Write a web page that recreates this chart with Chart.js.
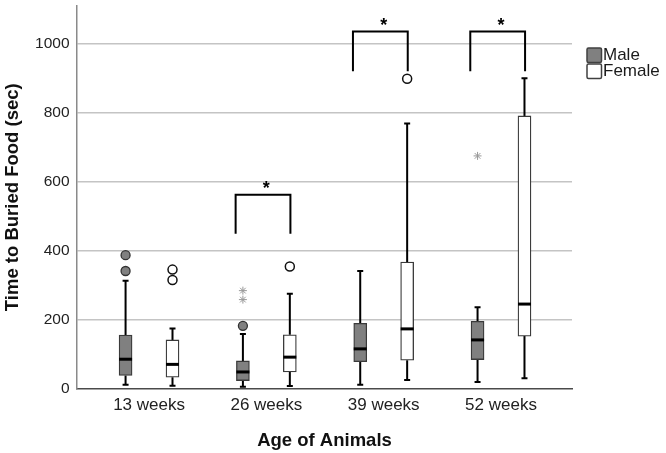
<!DOCTYPE html>
<html>
<head>
<meta charset="utf-8">
<script src="https://cdn.jsdelivr.net/npm/chart.js@4"></script>
<style>
  html, body { margin: 0; padding: 0; background: #ffffff; }
  #wrap { width: 666px; height: 453px; }
</style>
</head>
<body>
<div id="wrap"><canvas id="c" width="666" height="453"></canvas></div>
<script>
// ---------- data ----------
const categories = ['13 weeks', '26 weeks', '39 weeks', '52 weeks'];
const yTicks = [0, 200, 400, 600, 800, 1000];

const maleMin    = [11, 5, 11, 19];
const maleQ1     = [38, 23, 78, 84];
const maleMedian = [85, 48, 115, 141];
const maleQ3     = [155, 80, 189, 195];
const maleMax    = [313, 158, 341, 236];

const femaleMin    = [8, 7, 25, 30];
const femaleQ1     = [33, 48, 82, 152];
const femaleMedian = [70, 91, 173, 245];
const femaleQ3     = [141, 156, 367, 791];
const femaleMax    = [174, 275, 769, 900];

// outliers (category index, value)
const maleOutlierCat = [0, 0, 1];
const maleOutlierVal = [387, 341, 182];
const maleExtremeCat = [1, 1, 3];
const maleExtremeVal = [284, 258, 675];
const femaleOutlierCat = [0, 0, 1, 2];
const femaleOutlierVal = [345, 315, 354, 899];

// significance brackets
const sigCat    = [1, 2, 3];
const sigTop    = [562, 1036, 1036];
const sigBottom = [449, 921, 921];
const sigLabel  = ['*', '*', '*'];

// ---------- styling constants ----------
const FONT = "'Liberation Sans', Arial, sans-serif";
const OFF = 0.2;            // group offset in category units
const BOX_W = 13;           // px
const CAP_W = 6;            // px
const MALE_FILL = '#808080';
const BOX_EDGE = '#3a3a3a';

const pos = (i, g) => i + 1 + (g === 0 ? -OFF : OFF);

const boxData = (q1, q3, g) => q1.map((v, i) => ({ x: pos(i, g), y: [v, q3[i]] }));
const ptData = (cats, vals, g) => cats.map((c, i) => ({ x: pos(c, g), y: vals[i] }));

const boxPlugin = {
  id: 'boxExtras',
  beforeDatasetsDraw(chart) {
    const { ctx, scales: { x, y } } = chart;
    ctx.save();
    ctx.strokeStyle = '#000';
    ctx.lineWidth = 2;
    const groups = [
      [maleMin, maleQ1, maleQ3, maleMax, 0],
      [femaleMin, femaleQ1, femaleQ3, femaleMax, 1]
    ];
    groups.forEach(([mn, q1, q3, mx, g]) => {
      mn.forEach((_, i) => {
        const px = x.getPixelForValue(pos(i, g));
        ctx.beginPath();
        ctx.moveTo(px, y.getPixelForValue(q3[i]));
        ctx.lineTo(px, y.getPixelForValue(mx[i]));
        ctx.moveTo(px, y.getPixelForValue(q1[i]));
        ctx.lineTo(px, y.getPixelForValue(mn[i]));
        ctx.moveTo(px - CAP_W / 2, y.getPixelForValue(mx[i]));
        ctx.lineTo(px + CAP_W / 2, y.getPixelForValue(mx[i]));
        ctx.moveTo(px - CAP_W / 2, y.getPixelForValue(mn[i]));
        ctx.lineTo(px + CAP_W / 2, y.getPixelForValue(mn[i]));
        ctx.stroke();
      });
    });
    ctx.restore();
  },
  afterDatasetsDraw(chart) {
    const { ctx, scales: { x, y } } = chart;
    ctx.save();
    // medians
    ctx.strokeStyle = '#000';
    ctx.lineWidth = 3;
    [[maleMedian, 0], [femaleMedian, 1]].forEach(([med, g]) => {
      med.forEach((v, i) => {
        const px = x.getPixelForValue(pos(i, g));
        const py = y.getPixelForValue(v);
        ctx.beginPath();
        ctx.moveTo(px - BOX_W / 2, py);
        ctx.lineTo(px + BOX_W / 2, py);
        ctx.stroke();
      });
    });
    // significance brackets
    ctx.lineWidth = 2;
    ctx.fillStyle = '#000';
    ctx.font = "bold 18px " + FONT;
    ctx.textAlign = 'center';
    ctx.textBaseline = 'alphabetic';
    sigCat.forEach((c, k) => {
      const xl = x.getPixelForValue(c + 1 - 0.262);
      const xr = x.getPixelForValue(c + 1 + 0.205);
      const yt = y.getPixelForValue(sigTop[k]);
      const yb = y.getPixelForValue(sigBottom[k]);
      ctx.beginPath();
      ctx.moveTo(xl, yb);
      ctx.lineTo(xl, yt);
      ctx.lineTo(xr, yt);
      ctx.lineTo(xr, yb);
      ctx.stroke();
      ctx.fillText(sigLabel[k], x.getPixelForValue(c + 1), yt - 0.5);
    });
    ctx.restore();
  },
  afterDraw(chart) {
    const { ctx } = chart;
    ctx.save();
    const items = [
      { label: chart.data.datasets[0].label, fill: MALE_FILL },
      { label: chart.data.datasets[1].label, fill: '#ffffff' }
    ];
    ctx.font = "17px " + FONT;
    ctx.textBaseline = 'middle';
    ctx.textAlign = 'left';
    items.forEach((it, k) => {
      const bx = 587, by = 48 + k * 16, s = 14.5;
      ctx.beginPath();
      if (ctx.roundRect) ctx.roundRect(bx, by, s, s, 1.5); else ctx.rect(bx, by, s, s);
      ctx.fillStyle = it.fill;
      ctx.fill();
      ctx.lineWidth = 1.5;
      ctx.strokeStyle = '#404040';
      ctx.stroke();
      ctx.fillStyle = '#1a1a1a';
      ctx.fillText(it.label, 603, by + s / 2 + 0.5);
    });
    ctx.restore();
  }
};

new Chart(document.getElementById('c'), {
  type: 'bar',
  data: {
    datasets: [
      {
        label: 'Male',
        data: boxData(maleQ1, maleQ3, 0),
        backgroundColor: MALE_FILL,
        borderColor: BOX_EDGE,
        borderWidth: 1.3,
        borderSkipped: false,
        barThickness: BOX_W,
        grouped: false,
        order: 2
      },
      {
        label: 'Female',
        data: boxData(femaleQ1, femaleQ3, 1),
        backgroundColor: '#ffffff',
        borderColor: BOX_EDGE,
        borderWidth: 1.3,
        borderSkipped: false,
        barThickness: BOX_W,
        grouped: false,
        order: 2
      },
      {
        type: 'scatter',
        label: 'Male outliers',
        data: ptData(maleOutlierCat, maleOutlierVal, 0),
        pointStyle: 'circle',
        pointRadius: 4.5,
        backgroundColor: MALE_FILL,
        borderColor: '#333333',
        borderWidth: 1.3,
        order: 1
      },
      {
        type: 'scatter',
        label: 'Male extremes',
        data: ptData(maleExtremeCat, maleExtremeVal, 0),
        pointStyle: 'star',
        pointRadius: 4,
        backgroundColor: '#999999',
        borderColor: '#999999',
        borderWidth: 1,
        order: 1
      },
      {
        type: 'scatter',
        label: 'Female outliers',
        data: ptData(femaleOutlierCat, femaleOutlierVal, 1),
        pointStyle: 'circle',
        pointRadius: 4.5,
        backgroundColor: '#ffffff',
        borderColor: '#111111',
        borderWidth: 1.5,
        order: 1
      }
    ]
  },
  options: {
    responsive: false,
    animation: false,
    layout: { padding: { top: 1, right: 94, left: 0, bottom: 0 } },
    plugins: { legend: { display: false }, tooltip: { enabled: false } },
    scales: {
      x: {
        type: 'linear',
        min: 0.386,
        max: 4.605,
        offset: false,
        afterBuildTicks: (s) => { s.ticks = categories.map((c, i) => ({ value: i + 1 })); },
        afterFit: (s) => { s.height = 64.5; s.paddingLeft = 0; s.paddingRight = 0; },
        ticks: {
          autoSkip: false,
          maxRotation: 0,
          padding: 6.4,
          color: '#222222',
          font: { family: FONT, size: 17 },
          callback: (v) => categories[Math.round(v) - 1]
        },
        grid: { display: false, drawTicks: false },
        border: { display: true, color: '#4a4a4a', width: 1.5 },
        title: {
          display: true,
          text: 'Age of Animals',
          color: '#111111',
          font: { family: FONT, size: 18.5, weight: 'bold' },
          padding: { top: 0, bottom: 1.3 }
        }
      },
      y: {
        min: 0,
        max: 1110,
        afterBuildTicks: (s) => { s.ticks = yTicks.map(v => ({ value: v })); },
        afterFit: (s) => { s.width = 77; s.paddingTop = 0; s.paddingBottom = 0; },
        ticks: {
          padding: 7.5,
          color: '#222222',
          font: { family: FONT, size: 15.5 },
          callback: (v) => String(v)
        },
        grid: {
          drawTicks: false,
          lineWidth: 1.5,
          color: (c) => (c.tick && c.tick.value === 0) ? 'rgba(0,0,0,0)' : '#c4c4c4'
        },
        border: { display: true, color: '#8a8a8a', width: 1.5 },
        title: {
          display: true,
          text: 'Time to Buried Food (sec)',
          color: '#111111',
          font: { family: FONT, size: 18.5, weight: 'bold' },
          padding: { top: 2, bottom: 0 }
        }
      }
    }
  },
  plugins: [boxPlugin]
});
</script>
</body>
</html>
